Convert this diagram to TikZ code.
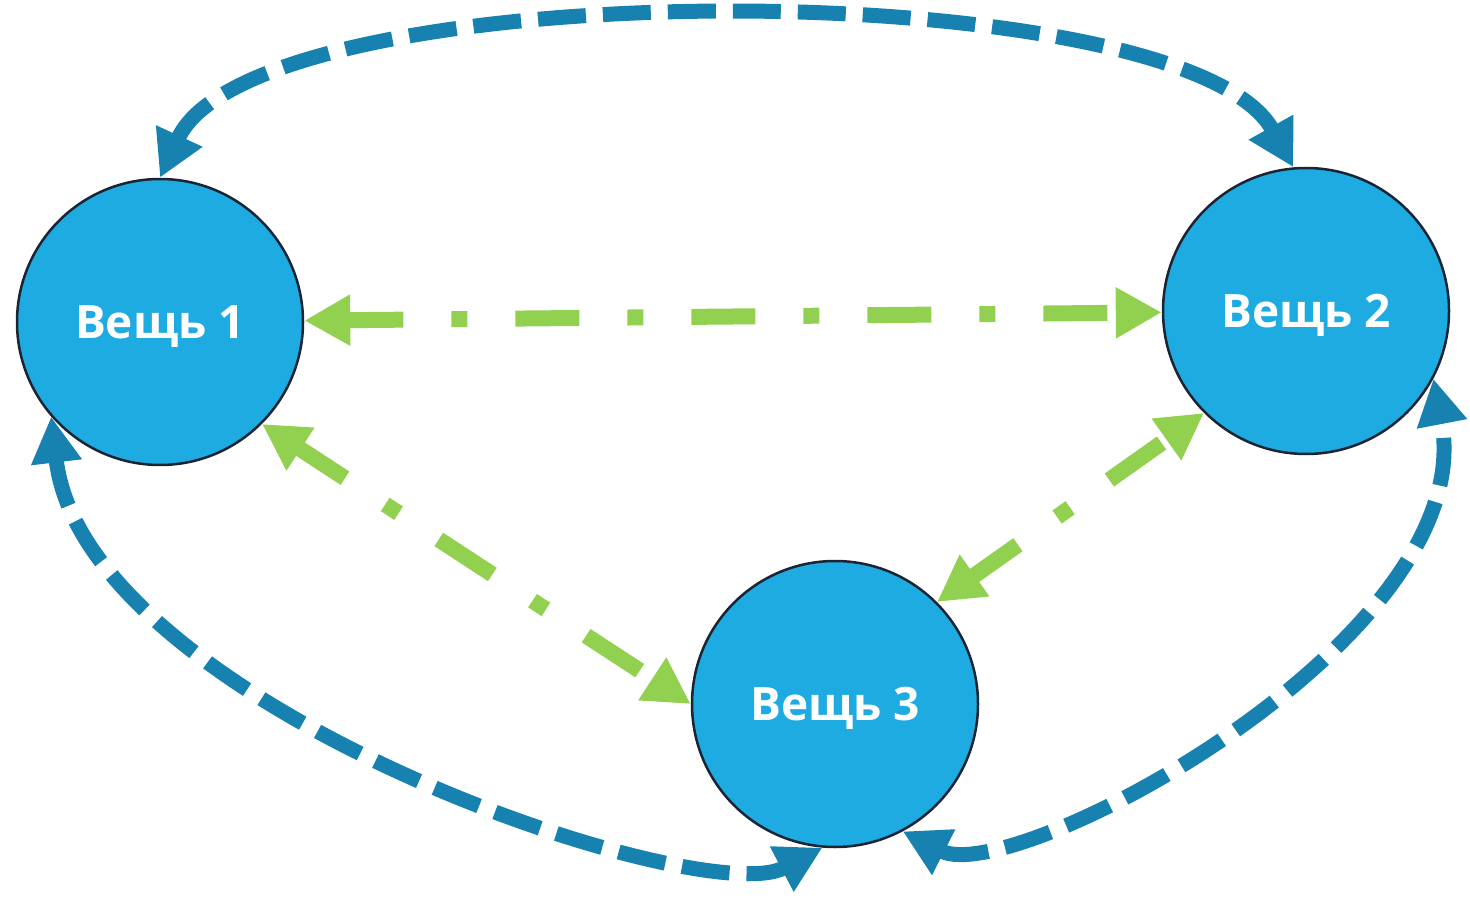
\documentclass[tikz,border=0pt]{standalone}
\usepackage{fontspec}
\setmainfont{Open Sans}
\usetikzlibrary{arrows.meta}
\definecolor{thingfill}{RGB}{29,171,226}
\definecolor{thingline}{RGB}{26,36,50}
\definecolor{loopblue}{RGB}{23,130,176}
\definecolor{linkgreen}{RGB}{146,208,80}
\tikzset{
  thing/.style={circle, draw=thingline, line width=2.5pt, fill=thingfill,
    minimum size=286pt, inner sep=0pt, text=white, text depth=0pt,
    font=\fontsize{46}{50}\selectfont\bfseries},
  looparrow/.style={draw=loopblue, line width=15pt,
    dash pattern=on 48pt off 17pt,
    {Triangle[length=46pt,width=48pt]}-{Triangle[length=46pt,width=48pt]}},
  linkarrow/.style={draw=linkgreen, line width=16pt,
    dash pattern=on 64pt off 48pt on 16pt off 48pt, dash phase=8pt,
    {Triangle[length=46pt,width=48pt]}-{Triangle[length=46pt,width=48pt]}}
}
\begin{document}
\begin{tikzpicture}[x=1pt,y=-1pt]
\useasboundingbox (0,0) rectangle (1470,901);
\node[thing] (n1) at (160,322) {Вещь 1};
\node[thing] (n2) at (1306,311) {Вещь 2};
\node[thing] (n3) at (835,704) {Вещь 3};
% green links
\draw[linkarrow] (n1) -- (n2);
\draw[linkarrow] (n1.-45) -- (n3.west);
\draw[linkarrow] (n3.45) -- (n2.-135);
% blue loops
\draw[looparrow] (n1.north) .. controls (256,-30) and (1183,-30) .. (n2.95);
\draw[looparrow] (n1.-139) .. controls (85,705) and (700,912) .. (n3.-95);
\draw[looparrow] (n3.-62) .. controls (1014,888) and (1483,638) .. (n2.-28);
\end{tikzpicture}
\end{document}
